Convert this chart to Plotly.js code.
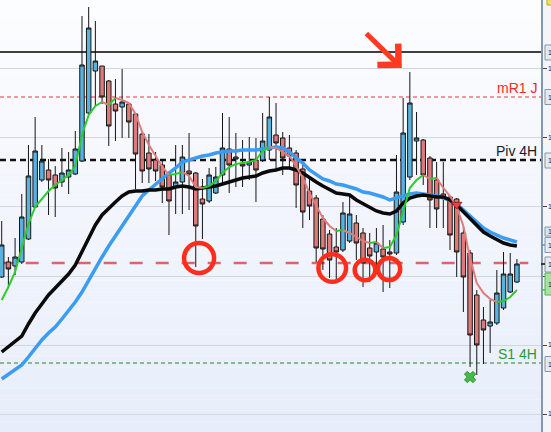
<!DOCTYPE html>
<html><head><meta charset="utf-8">
<script src="https://cdn.plot.ly/plotly-3.0.1.min.js"></script>
<style>html,body{margin:0;padding:0;background:#f3f5f9;overflow:hidden}#chart{width:551px;height:432px}</style>
</head><body><div id="chart"></div>
<script>
// ---- candle data (price units) ----
const openP  = [122.3,123.8,123.4,123.8,126.1,129.3,132.0,133.0,132.5,131.8,132.3,132.6,133.9,138.7,142.9,143.4,141.9,139.6,139.3,139.6,138.6,136.6,134.7,134.0,133.5,132.5,131.3,131.8,132.9,132.7,130.1,129.9,130.7,132.5,135.1,134.1,133.6,133.5,134.0,134.0,135.0,136.5,136.2,135.2,134.7,133.1,130.9,130.2,128.1,126.6,125.3,125.0,125.9,127.7,126.7,125.2,124.8,125.1,124.8,124.7,127.8,132.3,135.9,136.0,134.2,132.0,130.6,130.3,130.1,126.7,124.7,120.5,118.0,117.4,117.7,119.2,120.8,121.8];
const highP  = [127.9,124.3,126.2,130.6,135.5,138.3,135.5,134.1,133.4,135.2,134.8,136.9,148.4,149.3,147.9,143.4,142.0,142.1,143.1,139.7,138.7,136.7,136.6,134.8,134.0,132.7,135.5,135.5,136.7,132.8,132.1,133.2,133.3,138.7,138.3,136.7,136.0,136.3,136.2,138.7,140.3,139.7,136.8,136.5,135.0,133.5,132.3,130.5,128.5,127.0,127.2,129.8,130.5,128.5,127.2,126.7,127.2,127.5,126.0,134.5,140.2,142.8,138.8,136.1,134.4,133.8,133.8,130.4,130.2,127.5,125.0,121.0,119.3,120.0,123.0,124.8,124.7,124.1];
const lowP   = [122.2,121.3,122.5,123.6,126.0,129.2,131.8,128.5,128.3,131.3,130.6,132.5,133.8,138.6,139.3,139.6,135.4,135.9,136.2,136.2,131.1,131.7,131.7,131.9,129.7,126.5,128.6,128.6,129.0,123.3,126.1,129.7,130.6,131.5,130.7,131.3,131.3,132.0,129.8,133.8,134.0,133.0,132.5,133.2,129.2,127.2,128.0,123.8,123.0,122.2,121.7,124.8,125.7,124.0,121.3,121.8,122.7,120.8,121.2,124.5,127.5,132.0,132.5,131.5,127.2,127.2,127.2,125.0,122.3,118.8,113.3,112.5,113.6,114.7,117.5,119.0,120.7,121.7];
const closeP = [125.5,123.1,124.3,128.3,132.4,134.9,133.9,132.0,131.2,132.7,133.0,135.1,143.5,147.2,143.9,140.3,137.4,138.9,139.8,137.8,134.6,132.9,133.1,132.9,131.3,129.9,131.8,134.3,132.6,127.4,129.6,132.5,132.3,135.2,133.5,134.3,133.4,133.8,133.0,135.9,138.3,135.7,134.2,134.4,131.5,128.8,129.4,125.2,125.1,124.0,124.8,128.7,128.6,125.7,123.7,124.4,125.7,124.3,124.6,130.8,136.7,139.7,136.2,132.5,130.0,129.1,130.2,126.5,124.8,122.3,116.5,115.5,117.0,117.8,120.7,122.6,122.6,123.6];
// ---- moving averages ----
const maSlow = [114.8,115.3,115.8,116.4,117.6,118.7,119.6,120.5,121.2,121.9,122.6,123.5,124.8,126.2,127.5,128.5,129.2,129.8,130.4,130.8,130.9,130.9,131.0,131.0,131.1,131.1,131.3,131.4,131.3,131.1,131.2,131.3,131.4,131.6,131.8,132.0,132.2,132.3,132.4,132.7,132.9,133.0,133.2,133.2,133.0,132.7,132.2,131.8,131.4,131.0,130.7,130.6,130.5,130.0,129.6,129.2,128.9,128.7,128.6,128.9,129.7,130.2,130.4,130.5,130.4,130.3,130.3,130.0,129.5,128.8,128.1,127.4,126.8,126.4,126.0,125.7,125.5,125.4];
const maBlue = [112.1,112.6,113.0,113.5,114.3,115.2,116.0,116.7,117.3,118.1,118.9,119.8,120.8,122.0,123.2,124.3,125.4,126.4,127.4,128.5,129.5,130.4,131.0,131.6,132.2,132.7,133.2,133.8,134.0,134.2,134.4,134.5,134.7,134.8,134.9,134.9,135.0,135.0,135.0,135.1,135.2,135.3,135.2,134.8,134.2,133.7,133.0,132.5,132.1,131.9,131.6,131.5,131.3,131.1,130.8,130.7,130.5,130.3,130.0,130.2,130.4,130.6,130.7,130.6,130.5,130.4,130.2,130.0,129.6,129.0,128.4,127.8,127.2,126.8,126.5,126.2,126.0,125.8];
const maFast = [120.0,121.3,122.8,125.2,127.6,129.3,130.1,130.9,131.5,132.0,132.5,133.4,136.5,138.5,139.4,139.8,139.5,140.2,140.0,139.7,138.6,136.8,135.5,134.4,133.3,132.5,132.6,132.8,132.4,131.3,131.2,131.4,131.9,132.7,133.3,133.6,133.7,133.8,134.0,134.9,135.3,135.2,134.8,134.4,133.4,132.2,130.7,129.4,128.2,127.4,126.9,127.0,126.7,126.3,125.9,125.7,125.8,125.2,125.3,126.5,128.8,131.2,132.0,132.5,132.1,132.2,131.2,130.4,129.3,127.4,124.2,121.7,120.7,120.1,119.8,119.9,120.3,121.0];
// ---- levels ----
const levelNames  = ['mR1 J','Piv 4H','S1 4H'];
const levelValues = [140.3, 134.0, 113.7];
const topLine = 144.8;
const supportDash = 123.7;
const gridVals = [108.6,115.5,122.4,129.35,136.25,143.15];
const gridText = ['1','1','1','1','1','1'];
// ---- markers ----
const circleIdx   = [29.5, 49.4, 54.3, 57.9];
const circlePrice = [124.2, 123.2, 123.0, 123.1];
const circleR     = [15, 13.8, 10.3, 11.1];
const lowMarkIdx = 70;
const arrowMarkIdx = 68;
const spikeIdx = 61;
// ---- price tags on right axis ----
const tagPrice = [144.75, 140.3, 133.95, 126.85, 125.5, 123.55, 121.6, 113.6];
const tagKind  = ['n','n','n','b','n','n','g','n'];

const idx = openP.map((_, i) => i);
const GREEN = '#2ccc2c', SALMON = '#e07c7c';

function fastRuns(vals){
  const runs = []; let cur = null;
  for (let i = 0; i < vals.length - 1; i++) {
    const col = vals[i+1] >= vals[i] ? GREEN : SALMON;
    if (!cur || cur.col !== col) { cur = {col, x:[i], y:[vals[i]]}; runs.push(cur); }
    cur.x.push(i+1); cur.y.push(vals[i+1]);
  }
  return runs.map(r => ({type:'scatter', mode:'lines', x:r.x, y:r.y, line:{color:r.col, width:2}, hoverinfo:'skip', showlegend:false}));
}

const traces = [
  {type:'candlestick', x:idx, open:openP, high:highP, low:lowP, close:closeP,
   increasing:{fillcolor:'#58b2de', line:{color:'#151515', width:1}},
   decreasing:{fillcolor:'#df7a7a', line:{color:'#151515', width:1}},
   whiskerwidth:0, hoverinfo:'skip', showlegend:false},
  {type:'scatter', mode:'lines', x:idx, y:maBlue, line:{color:'#3a9cf2', width:3.5}, hoverinfo:'skip', showlegend:false},
  {type:'scatter', mode:'lines', x:idx, y:maSlow, line:{color:'#0a0a0a', width:3.5}, hoverinfo:'skip', showlegend:false},
  ...fastRuns(maFast),
  {type:'scatter', mode:'markers', x:[lowMarkIdx], y:[lowP[lowMarkIdx]-1.0],
   marker:{symbol:'x', size:10, color:'#47bb47', line:{color:'#2f9a2f', width:1}}, hoverinfo:'skip', showlegend:false},
  {type:'scatter', mode:'markers', x:[arrowMarkIdx], y:[openP[arrowMarkIdx]-0.55],
   marker:{symbol:'triangle-down', size:9, color:'#e4463c', line:{color:'#a02020', width:1}}, hoverinfo:'skip', showlegend:false}
];

const shapes = [];
// background gradient bands
const NB = 40, c0 = [253,253,255], c1 = [231,237,250];
for (let b = 0; b < NB; b++) {
  const t = b/(NB-1);
  const c = c0.map((v,k)=>Math.round(v + (c1[k]-v)*t));
  shapes.push({type:'rect', xref:'paper', yref:'paper', x0:0, x1:1, y0:1-(b+1)/NB, y1:1-b/NB,
    fillcolor:`rgb(${c[0]},${c[1]},${c[2]})`, line:{width:0}, layer:'below'});
}
shapes.push({type:'line', xref:'paper', yref:'y', x0:0, x1:1, y0:topLine, y1:topLine, line:{color:'#000', width:1.3}, layer:'between'});
shapes.push({type:'line', xref:'paper', yref:'y', x0:0, x1:1, y0:levelValues[0], y1:levelValues[0], line:{color:'#e8333a', width:1, dash:'4px,3px'}, layer:'between'});
shapes.push({type:'line', xref:'paper', yref:'y', x0:0, x1:1, y0:levelValues[1], y1:levelValues[1], line:{color:'#111', width:2.5, dash:'6px,4px'}, layer:'between'});
shapes.push({type:'line', xref:'paper', yref:'y', x0:0, x1:1, y0:levelValues[2], y1:levelValues[2], line:{color:'#23882a', width:1, dash:'4px,3px'}, layer:'between'});
shapes.push({type:'line', xref:'x', yref:'y', x0:-0.3, x1:78.7, y0:supportDash, y1:supportDash, line:{color:'#e06464', width:2.5, dash:'13px,13px'}, layer:'between'});
// circles
circleIdx.forEach((cx, k) => {
  const r = circleR[k];
  shapes.push({type:'circle', xref:'x', yref:'y', xsizemode:'pixel', ysizemode:'pixel',
    xanchor:cx, yanchor:circlePrice[k], x0:-r, x1:r, y0:-r, y1:r,
    line:{color:'#ff2d1c', width:4.5}, layer:'above'});
});
// right axis price tags
tagPrice.forEach((p, k) => {
  const g = tagKind[k] === 'g';
  const h = g ? 1.1 : (tagKind[k]==='b' ? 0.45 : 0.75);
  shapes.push({type:'rect', xref:'paper', yref:'y', x0:545/541, x1:556/541, y0:p-h, y1:p+h,
    fillcolor: g ? '#a4e3a0' : (tagKind[k]==='b' ? '#d7e6f5' : '#e5eaf1'),
    line:{color: g ? '#5aae5a' : '#8296ad', width:1}, layer:'above'});
});
// connectors
[[maBlue[77]-0.3,'#3a9cf2'],[123.6,'#111'],[maFast[77],'#2ccc2c']].forEach(([p,c])=>{
  shapes.push({type:'line', xref:'paper', yref:'y', x0:1, x1:545/541, y0:p, y1:p, line:{color:c, width:1.5}, layer:'above'});
});
shapes.push({type:'rect', xref:'paper', yref:'paper', x0:547/541, x1:556/541, y0:1-5/432, y1:1.01,
  fillcolor:'#f3e44a', line:{color:'#b9a92c', width:1}, layer:'above'});

const labelColors = ['#ee2a2a','#1a1a1a','#2a9a38'];
const annotations = levelNames.map((t, k) => ({
  xref:'paper', yref:'y', x:539/541, y:levelValues[k], xanchor:'right', yanchor:'bottom', yshift:-1,
  text:t, showarrow:false, font:{size:14, color:labelColors[k], family:'Liberation Sans, Arial'}
}));
annotations.push({xref:'x', yref:'y', x:spikeIdx-1.2, y:highP[spikeIdx]+0.4, ax:-37, ay:-36,
  text:'', showarrow:true, arrowhead:4, arrowsize:1.15, arrowwidth:5, arrowcolor:'#ff3a20', standoff:0});
// small "1" digits peeking out of the price tags
tagPrice.forEach((p) => {
  annotations.push({xref:'paper', yref:'y', x:546.5/541, y:p, xanchor:'left', yanchor:'middle',
    text:'1', showarrow:false, borderpad:0, font:{size:7, color:'#222', family:'Liberation Sans, Arial'}});
});

const layout = {
  width:551, height:432, margin:{l:0, r:10, t:0, b:0},
  paper_bgcolor:'#f3f5f9', plot_bgcolor:'#ffffff',
  showlegend:false, boxgap:0.33, boxgroupgap:0,
  xaxis:{range:[-0.254, 80.6], visible:false, fixedrange:true, rangeslider:{visible:false}},
  yaxis:{range:[106.8, 150.0], side:'right', tickvals:gridVals, ticktext:gridText,
    showgrid:true, gridcolor:'#d2d6e0', gridwidth:1, zeroline:false,
    showline:true, linecolor:'#8597ad', linewidth:1.5, ticks:'outside', ticklen:4, tickcolor:'#444',
    tickfont:{size:7, color:'#222', family:'Liberation Sans, Arial'}, fixedrange:true},
  shapes, annotations
};
Plotly.newPlot('chart', traces, layout, {staticPlot:true, displayModeBar:false});
</script>
</body></html>
